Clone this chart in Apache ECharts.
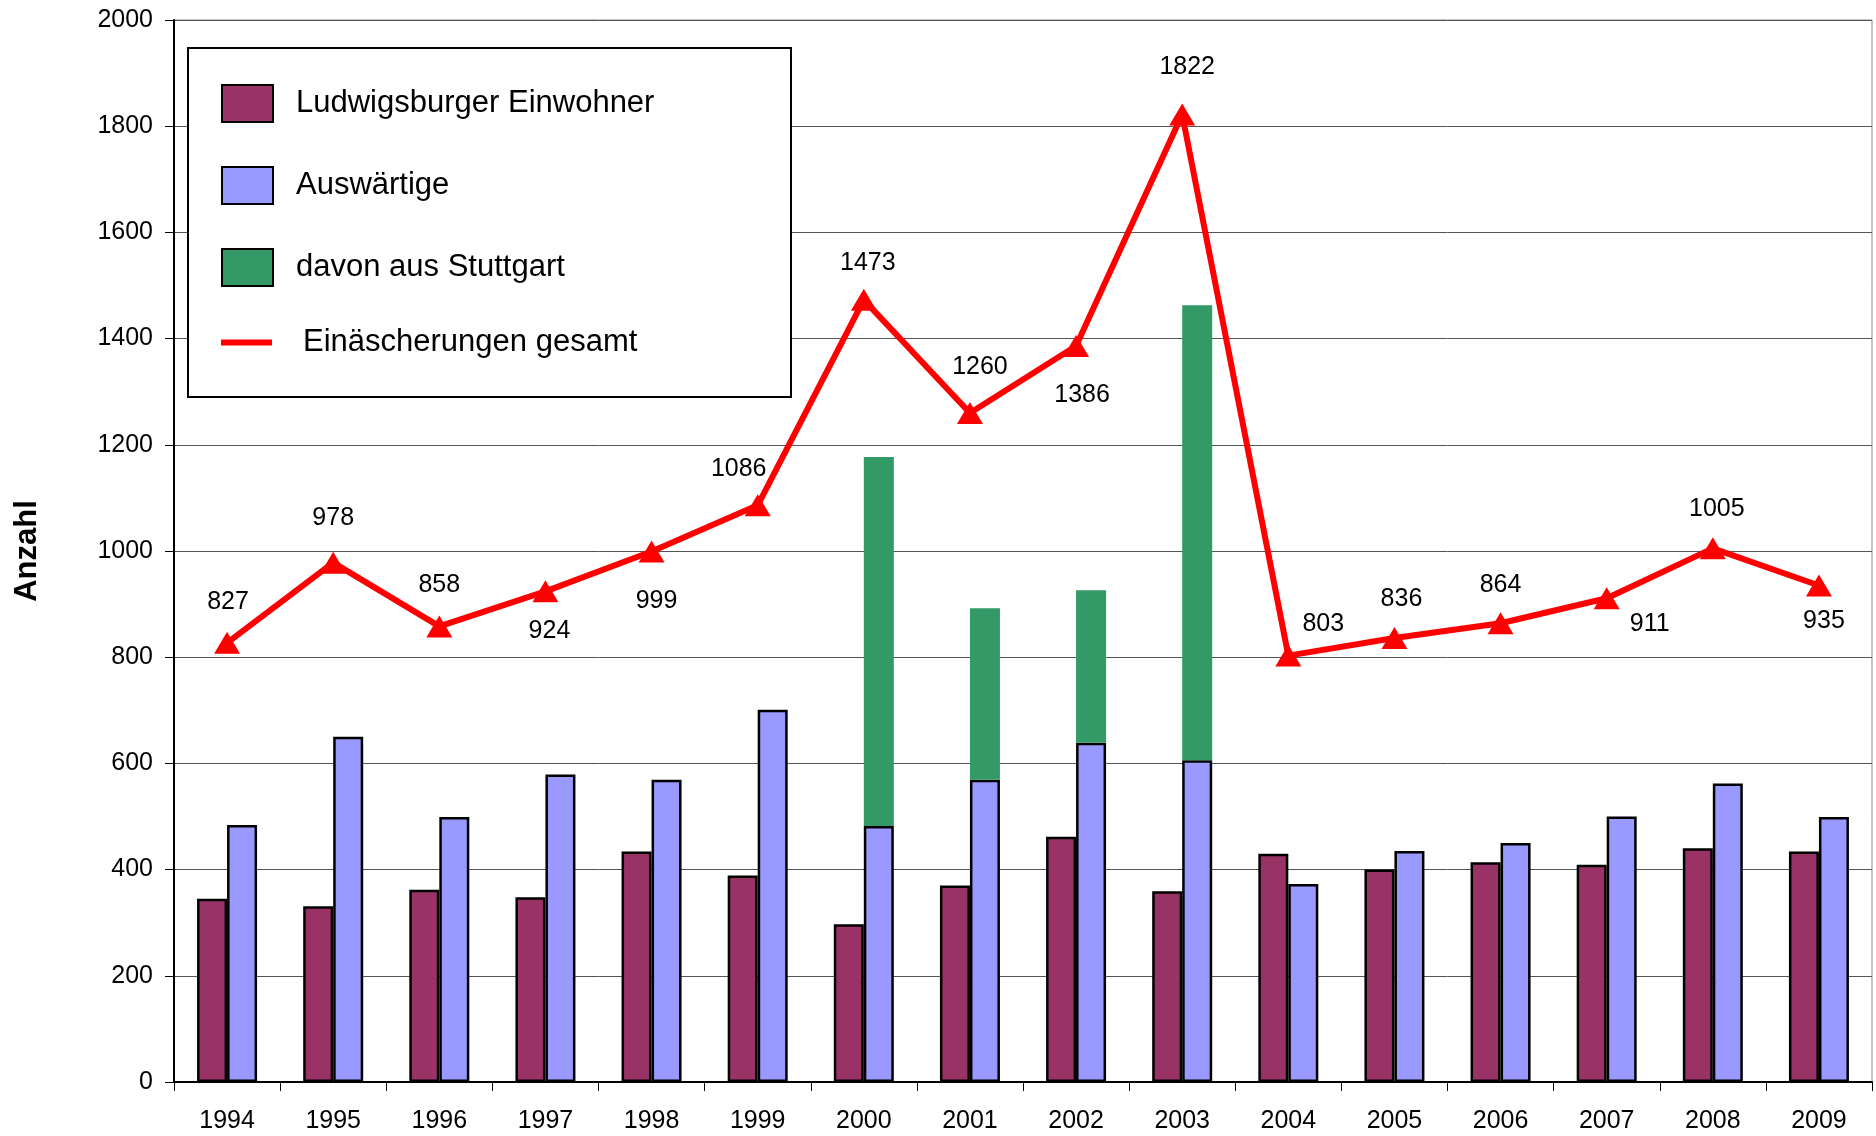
<!DOCTYPE html>
<html>
<head>
<meta charset="utf-8">
<script src="https://cdn.jsdelivr.net/npm/echarts@6/dist/echarts.min.js"></script>
<style>
  html, body { margin: 0; padding: 0; background: #fff; }
  #chart { width: 1876px; height: 1136px; }
</style>
</head>
<body>
<div id="chart"></div>
<script>
// Daten
const years = ['1994', '1995', '1996', '1997', '1998', '1999', '2000', '2001',
  '2002', '2003', '2004', '2005', '2006', '2007', '2008', '2009']
const einwohner = [345, 331, 362, 348, 434, 389, 297, 370, 462, 359, 430, 400, 414, 409, 440, 434]
const auswaertige = [484, 650, 499, 579, 569, 701, 482, 569, 639, 606, 373, 435, 450, 500, 562, 499]
const stuttgart = [0, 0, 0, 0, 0, 0, 695, 323, 287, 857, 0, 0, 0, 0, 0, 0]
const gesamt = [827, 978, 858, 924, 999, 1086, 1473, 1260, 1386, 1822, 803, 836, 864, 911, 1005, 935]
const yTicks = { min: 0, max: 2000, step: 200 }

// Lage der Wertebeschriftungen (Pixelversatz vom Punkt)
const labelOffsets = [[1, -41], [0, -45], [0, -41], [4, 40], [5, 50], [-19, -36], [4, -37], [10, -46],
  [6, 49], [5, -47], [35, -31], [7, -39], [0, -38], [43, 26], [4, -39], [5, 36]]

const chart = echarts.init(document.getElementById('chart'))
const font = 'Liberation Sans, Arial, sans-serif'

chart.setOption({
  animation: false,
  backgroundColor: '#fff',
  grid: {
    left: 174, right: 4, top: 20, bottom: 54,
    outerBoundsMode: 'none',
    containLabel: false,
    show: true, borderColor: '#888', borderWidth: 1
  },
  graphic: [{
    type: 'rect',
    z: 3,
    shape: { x: 188, y: 48, width: 603, height: 349 },
    style: { fill: '#fff', stroke: '#000', lineWidth: 2 }
  }],
  legend: [{
    data: ['Ludwigsburger Einwohner', 'Auswärtige', 'davon aus Stuttgart'],
    orient: 'vertical',
    left: 221, top: 84,
    padding: 0,
    itemWidth: 51, itemHeight: 37, itemGap: 43,
    icon: 'rect',
    itemStyle: { borderColor: '#000', borderWidth: 2 },
    textStyle: { fontFamily: font, fontSize: 31, lineHeight: 37, color: '#000', padding: [0, 0, 0, 18] }
  }, {
    data: ['Einäscherungen gesamt'],
    orient: 'vertical',
    left: 221, top: 324,
    padding: 0,
    itemWidth: 51, itemHeight: 6,
    icon: 'rect',
    textStyle: { fontFamily: font, fontSize: 31, lineHeight: 37, color: '#000', padding: [0, 0, 0, 26] }
  }],
  xAxis: {
    type: 'category',
    data: years,
    axisLine: { lineStyle: { color: '#000', width: 2 } },
    axisTick: { show: true, length: 9, lineStyle: { color: '#000' } },
    axisLabel: { fontFamily: font, fontSize: 25, color: '#000', margin: 27 }
  },
  yAxis: {
    type: 'value',
    min: yTicks.min, max: yTicks.max, interval: yTicks.step,
    name: 'Anzahl',
    nameLocation: 'middle',
    nameRotate: 90,
    nameGap: 131,
    nameTextStyle: { fontFamily: font, fontSize: 31, fontWeight: 'bold', color: '#000' },
    axisLine: { show: true, lineStyle: { color: '#000', width: 2 } },
    axisTick: { show: true, length: 9, lineStyle: { color: '#000' } },
    axisLabel: { fontFamily: font, fontSize: 25, color: '#000', margin: 21, formatter: v => String(v) },
    splitLine: { lineStyle: { color: '#555', width: 1 } }
  },
  series: [
    {
      name: 'Ludwigsburger Einwohner',
      type: 'bar',
      data: einwohner,
      barWidth: 30,
      barGap: '0%',
      itemStyle: { color: '#993366', borderColor: '#000', borderWidth: 2.5 }
    },
    {
      name: 'Auswärtige',
      type: 'bar',
      stack: 'aus',
      data: auswaertige,
      barWidth: 30,
      itemStyle: { color: '#9999FF', borderColor: '#000', borderWidth: 2.5 }
    },
    {
      name: 'davon aus Stuttgart',
      type: 'bar',
      stack: 'aus',
      data: stuttgart,
      barWidth: 30,
      itemStyle: { color: '#339966', borderColor: '#000', borderWidth: 0 }
    },
    {
      name: 'Einäscherungen gesamt',
      type: 'line',
      z: 5,
      data: gesamt.map((v, i) => ({
        value: v,
        label: { offset: labelOffsets[i] }
      })),
      symbol: 'triangle',
      symbolSize: [26, 22],
      lineStyle: { color: '#FF0000', width: 6 },
      itemStyle: { color: '#FF0000' },
      label: {
        show: true,
        position: 'inside',
        fontFamily: font,
        fontSize: 25,
        color: '#000'
      }
    }
  ]
})
</script>
</body>
</html>
